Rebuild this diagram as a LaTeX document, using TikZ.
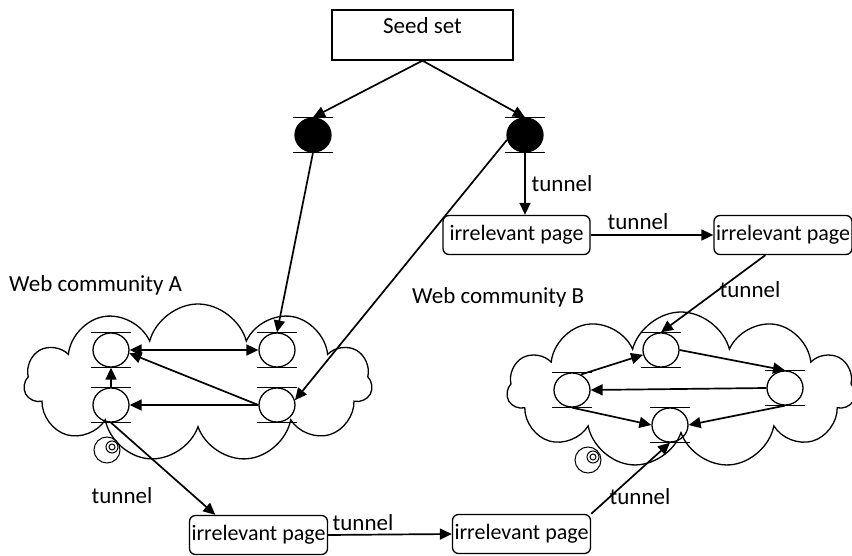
\documentclass[tikz,border=0pt]{standalone}
\usepackage{fontspec}
\setmainfont{Carlito}
\usetikzlibrary{arrows.meta,shapes.geometric,shapes.symbols}
\tikzset{
  arr/.style={line width=1.7pt,-{Triangle[length=12pt,width=11pt]}},
  darr/.style={line width=1.7pt,{Triangle[length=12pt,width=11pt]}-{Triangle[length=12pt,width=11pt]}},
  pg/.style={draw,ellipse,line width=1.3pt,minimum width=36pt,minimum height=34pt,inner sep=0pt},
  bar/.style={line width=1.2pt},
  irr/.style={draw,rounded corners=6pt,line width=1.3pt,minimum width=137pt,minimum height=39pt,inner sep=2pt,font=\fontsize{22}{26}\selectfont},
  cld/.style={draw,cloud,cloud puffs=11,cloud ignores aspect,line width=1.3pt},
  lbl/.style={inner sep=1pt},
}
\newcommand\pagenode[4]{%
  \node[pg,#4] (#1) at (#2,#3) {};
  \draw[bar] ([xshift=-20pt]#1.north) -- ([xshift=20pt]#1.north);
  \draw[bar] ([xshift=-20pt]#1.south) -- ([xshift=20pt]#1.south);
}
\begin{document}
\begin{tikzpicture}[x=1pt,y=-1pt,font=\fontsize{23}{27}\selectfont]
\useasboundingbox (0,0) rectangle (852,556);
% clouds
\node[cld,minimum width=348pt,minimum height=158pt] (cA) at (198,383) {};
\node[cld,minimum width=348pt,minimum height=156pt] (cB) at (681,390) {};
% seed set
\node[draw,line width=1.3pt,minimum width=181pt,minimum height=50pt] (seed) at (422.5,35) {};
\node[lbl] (seedt) at (422.5,26) {Seed set};
% black seed pages
\pagenode{bl}{313}{135}{fill=black}
\pagenode{br}{525}{135}{fill=black}
% community A
\pagenode{aul}{111}{350}{}
\pagenode{aur}{277}{350}{}
\pagenode{all}{111}{405}{}
\pagenode{alr}{277}{405}{}
% community B
\pagenode{bt}{661}{350}{}
\pagenode{brr}{785}{388}{}
\pagenode{bll}{572}{390}{}
\pagenode{bbo}{670}{425}{}
% spirals
\node[draw,circle,line width=1pt,minimum size=26pt,inner sep=0] (spA) at (107,450) {};
\node[draw,circle,line width=1pt,minimum size=12pt,inner sep=0] (spA2) at (112,447) {};
\node[draw,circle,line width=1pt,minimum size=6pt,inner sep=0] (spA3) at (112,447) {};
\node[draw,circle,line width=1pt,minimum size=26pt,inner sep=0] (spB) at (588,460) {};
\node[draw,circle,line width=1pt,minimum size=12pt,inner sep=0] (spB2) at (593,457) {};
\node[draw,circle,line width=1pt,minimum size=6pt,inner sep=0] (spB3) at (593,457) {};
% irrelevant pages
\node[irr,minimum width=147pt] (p1) at (516.5,235) {irrelevant page};
\node[irr,minimum width=135pt] (p2) at (783,235) {irrelevant page};
\node[irr] (p3) at (258.5,535) {irrelevant page};
\node[irr] (p4) at (521.5,534) {irrelevant page};
% labels
\node[lbl,anchor=west] (la) at (8,285) {Web community A};
\node[lbl,anchor=west] (lb) at (411,297) {Web community B};
\node[lbl] (t1) at (562,184) {tunnel};
\node[lbl] (t2) at (638,222) {tunnel};
\node[lbl] (t3) at (750,290) {tunnel};
\node[lbl] (t4) at (122,496) {tunnel};
\node[lbl] (t5) at (363,523) {tunnel};
\node[lbl] (t6) at (640,497) {tunnel};
% seed edges
\draw[arr] (seed.south) -- (bl.north);
\draw[arr] (seed.south) -- (br.north);
\draw[arr] (bl.south) -- (aur.north);
\draw[arr] (br.195) -- (alr.15);
\draw[arr] (br.south) -- (br.south |- p1.north);
% tunnels
\draw[arr] (p1.east) -- (p2.west);
\draw[arr] (p2.south west) ++(52,0) coordinate (p2b) -- (bt.north);
\draw[arr] (all.south) -- (p3.155);
\draw[arr] (p3.east) -- (p4.west);
\draw[arr] (p4.north east) -- (bbo.south);
% community A edges
\draw[darr] (aul.east) -- (aur.west);
\draw[arr] (all.north) -- (aul.south);
\draw[arr] (alr.west) -- (all.east);
\draw[arr] (alr.west) -- (aul.350);
% community B edges
\draw[arr] (bll.60) -- (bt.195);
\draw[arr] (bt.east) -- (brr.north);
\draw[arr] (brr.west) -- (bll.east);
\draw[arr] (bll.south) -- (bbo.west);
\draw[arr] (brr.south) -- (bbo.east);
\end{tikzpicture}
\end{document}
